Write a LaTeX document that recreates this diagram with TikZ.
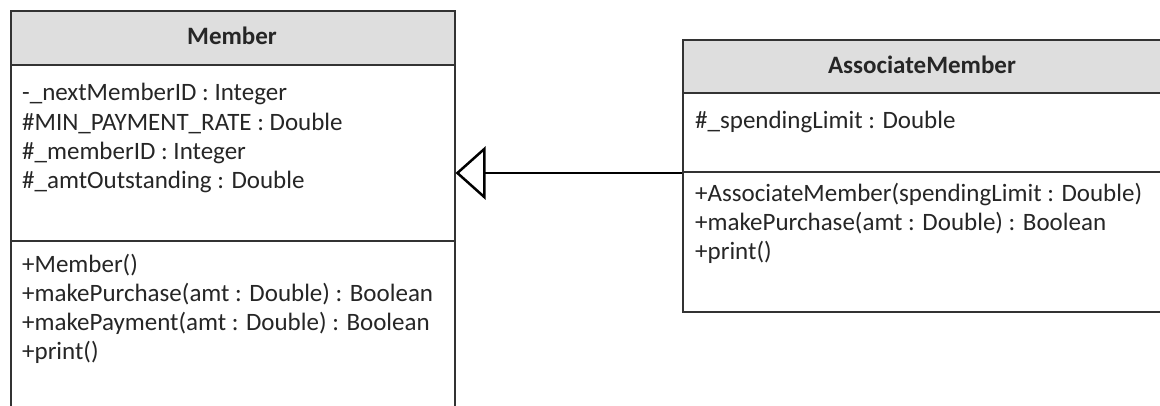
\documentclass[tikz,border=0pt]{standalone}
\usepackage{fontspec}
\setmainfont{Carlito}
\usetikzlibrary{arrows.meta}
\definecolor{hdrgray}{HTML}{DEDEDE}
\definecolor{edge}{HTML}{333333}
\tikzset{
  boxpart/.style={draw=edge, line width=1.5pt, rectangle, inner sep=0pt, anchor=north west},
  hdrpart/.style={boxpart, fill=hdrgray},
  hdrtxt/.style={font=\fontsize{25}{30}\selectfont\bfseries, inner sep=0pt, anchor=base, text=black!85},
  txt/.style={font=\fontsize{25}{30}\selectfont, inner sep=0pt, anchor=base west, text=black!85},
  generalization/.style={draw=black, line width=2.5pt, -{Triangle[open, length=30pt, width=53pt]}},
}
\begin{document}
\begin{tikzpicture}[x=1pt, y=-1pt]
\clip (0,0) rectangle (1160,405);
\fill[white] (0,0) rectangle (1160,405);
% Member
\node[hdrpart, minimum width=444pt, minimum height=54pt] (mhead) at (10,10) {};
\node[boxpart, minimum width=444pt, minimum height=176pt] (mattr) at (10,64) {};
\node[boxpart, minimum width=444pt, minimum height=200pt] (mmeth) at (10,240) {};
\node[hdrtxt] (mname) at (232,44) {Member};
\node[txt] (ma1) at (22,100) {-\_nextMemberID : Integer};
\node[txt] (ma2) at (22,130) {\#MIN\_PAYMENT\_RATE : Double};
\node[txt] (ma3) at (22,159) {\#\_memberID : Integer};
\node[txt] (ma4) at (22,188) {\#\_amtOutstanding : Double};
\node[txt] (mm1) at (22,272) {+Member()};
\node[txt] (mm2) at (22,301) {+makePurchase(amt : Double) : Boolean};
\node[txt] (mm3) at (22,330) {+makePayment(amt : Double) : Boolean};
\node[txt] (mm4) at (22,359) {+print()};
% AssociateMember
\node[hdrpart, minimum width=490pt, minimum height=53pt] (ahead) at (682,39) {};
\node[boxpart, minimum width=490pt, minimum height=79pt] (aattr) at (682,92) {};
\node[boxpart, minimum width=490pt, minimum height=140pt] (ameth) at (682,171) {};
\node[hdrtxt] (aname) at (922,73) {AssociateMember};
\node[txt] (aa1) at (695,128) {\#\_spendingLimit : Double};
\node[txt] (am1) at (695,201) {+AssociateMember(spendingLimit : Double)};
\node[txt] (am2) at (695,230) {+makePurchase(amt : Double) : Boolean};
\node[txt] (am3) at (695,259) {+print()};
% generalization
\draw[generalization] (ameth.north west) ++(0,2) coordinate (gstart) -- (gstart -| mattr.east);
\end{tikzpicture}
\end{document}
